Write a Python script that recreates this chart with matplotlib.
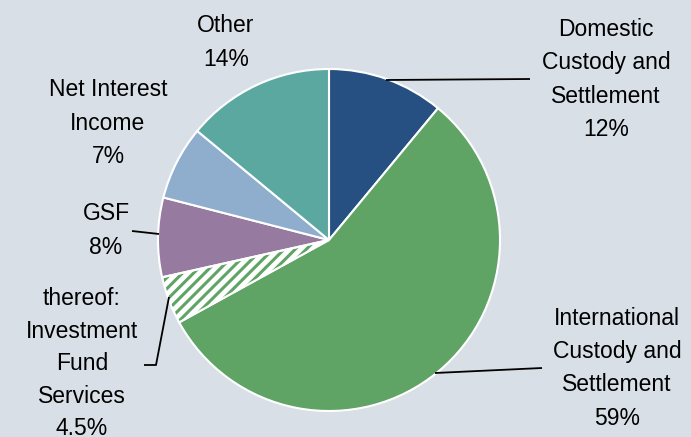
import matplotlib
matplotlib.use("Agg")
import matplotlib.pyplot as plt
from matplotlib.patches import Wedge

# ---- data ----
categories = ["Domestic Custody and Settlement",
              "International Custody and Settlement",
              "thereof: Investment Fund Services",
              "GSF", "Net Interest Income", "Other"]
slice_sizes = [11.0, 56.0, 4.5, 7.5, 7.0, 14.0]   # drawn wedge shares
colors = ["#264F82", "#5FA464", "#5FA464", "#967AA0", "#8FAECE", "#5BA8A1"]

label_lines = {
    "Domestic": ["Domestic", "Custody and", "Settlement", "12%"],
    "International": ["International", "Custody and", "Settlement", "59%"],
    "IFS": ["thereof:", "Investment", "Fund", "Services", "4.5%"],
    "GSF": ["GSF", "8%"],
    "NII": ["Net Interest", "Income", "7%"],
    "Other": ["Other", "14%"],
}

W, H = 691, 437
BG = "#D8DFE7"
plt.rcParams["hatch.linewidth"] = 2.2
plt.rcParams["font.family"] = ["Liberation Sans", "DejaVu Sans"]

fig = plt.figure(figsize=(W / 100, H / 100), dpi=100)
fig.patch.set_facecolor(BG)
ax = fig.add_axes([0, 0, 1, 1])
ax.set_facecolor(BG)

def Y(y):
    return H - y

cx, cy, r = 329, Y(240), 171
wedges, _ = ax.pie(slice_sizes, colors=colors, startangle=90, counterclock=False,
                   center=(cx, cy), radius=r,
                   wedgeprops=dict(edgecolor="white", linewidth=1.5))

hw = wedges[2]
hw.set_facecolor("white")
hw.set_edgecolor(colors[2])
hw.set_hatch("///")
hw.set_linewidth(0)
ax.add_patch(Wedge(hw.center, hw.r, hw.theta1, hw.theta2, fill=False,
                   edgecolor="white", linewidth=1.5, zorder=3))

ax.set_xlim(0, W)
ax.set_ylim(0, H)
ax.set_aspect("equal")
ax.axis("off")

# ---- labels ----
fs = 16.5
label_pos = {
    "Other": (226, [32, 66]),
    "NII": (108, [96, 130, 163]),
    "GSF": (106, [220, 254]),
    "IFS": (82, [305, 338, 370, 403, 435]),
    "Domestic": (606, [36, 69, 103, 136]),
    "International": (617, [325, 358, 391, 425]),
}
for key, (x, ys) in label_pos.items():
    for line, yb in zip(label_lines[key], ys):
        ax.text(x, Y(yb), line, ha="center", va="baseline", fontsize=fs,
                color="black")

# ---- leader lines ----
leaders = [
    [(386, 80), (530, 79)],
    [(435, 373), (542, 368)],
    [(159, 234), (132, 231)],
    [(169, 297), (156, 365), (144, 365)],
]
for pts in leaders:
    xs = [p[0] for p in pts]
    ys = [Y(p[1]) for p in pts]
    ax.plot(xs, ys, color="black", linewidth=1.3, solid_capstyle="butt",
            zorder=4)

fig.savefig("out.png", dpi=100, facecolor=BG)
